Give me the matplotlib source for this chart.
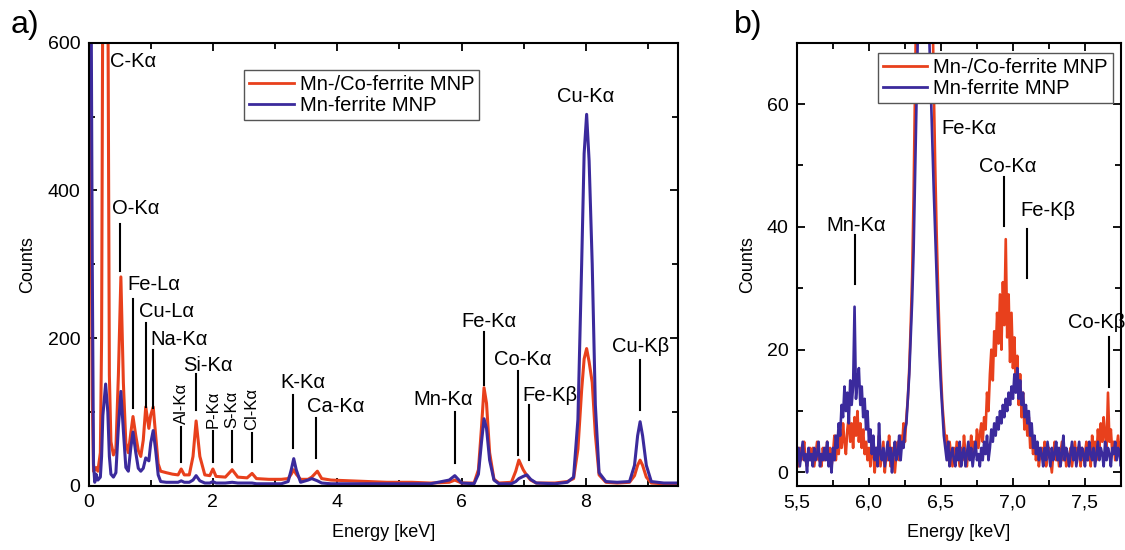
import numpy as np
import matplotlib
matplotlib.use("Agg")
import matplotlib.pyplot as plt
from matplotlib.ticker import MultipleLocator, FuncFormatter

plt.rcParams['font.family'] = ['Liberation Sans', 'DejaVu Sans']

RED = "#e8401c"
BLUE = "#3b2a9c"

# ---- panel a: full spectrum, traced points (keV, counts)
e_full = [0.00, 0.02, 0.04, 0.06, 0.08, 0.10, 0.12, 0.15, 0.19, 0.21,
          0.23, 0.275, 0.31, 0.335, 0.36, 0.40, 0.44, 0.48, 0.52, 0.56,
          0.60, 0.64, 0.68, 0.715, 0.76, 0.80, 0.84, 0.88, 0.92, 0.97,
          1.00, 1.04, 1.08, 1.12, 1.16, 1.25, 1.35, 1.44, 1.49, 1.54,
          1.62, 1.68, 1.73, 1.79, 1.87, 1.95, 2.00, 2.05, 2.20, 2.31,
          2.40, 2.55, 2.63, 2.70, 2.90, 3.10, 3.21, 3.26, 3.30, 3.34,
          3.41, 3.53, 3.59, 3.68, 3.75, 3.90, 4.20, 4.50, 4.80, 5.20,
          5.50, 5.80, 5.89, 6.00, 6.20, 6.27, 6.32, 6.36, 6.40, 6.45,
          6.52, 6.60, 6.80, 6.87, 6.92, 6.99, 7.05, 7.11, 7.20, 7.50,
          7.70, 7.80, 7.87, 7.93, 7.97, 8.01, 8.05, 8.10, 8.15, 8.21,
          8.32, 8.50, 8.70, 8.78, 8.83, 8.87, 8.91, 8.97, 9.05, 9.25,
          9.48]
red_full = [700, 700, 400, 120, 20, 22, 25, 20, 45, 200,
            700, 760, 700, 150, 60, 42, 50, 150, 283, 140,
            58, 45, 72, 94, 68, 48, 40, 62, 107, 78,
            96, 107, 68, 30, 20, 18, 16, 15, 23, 15,
            15, 40, 88, 40, 15, 14, 23, 13, 12, 22,
            12, 11, 17, 10, 9, 9, 10, 16, 22, 16,
            9, 9, 12, 20, 10, 8, 7, 6, 5, 5,
            4, 5, 8, 4, 4, 22, 80, 133, 112, 45,
            9, 4, 5, 20, 35, 22, 14, 8, 4, 4,
            6, 10, 50, 130, 172, 186, 168, 140, 70, 15,
            5, 4, 5, 14, 28, 35, 28, 12, 4, 3,
            3]
blue_full = [700, 700, 700, 300, 30, 5, 16, 8, 12, 40,
             95, 138, 100, 40, 16, 12, 18, 80, 128, 75,
             25, 20, 52, 73, 45, 24, 20, 24, 38, 34,
             58, 75, 48, 15, 6, 5, 5, 5, 7, 5,
             5, 8, 14, 7, 4, 4, 6, 4, 4, 5,
             4, 4, 4, 3, 3, 3, 6, 22, 37, 22,
             5, 8, 10, 7, 4, 3, 3, 3, 3, 3,
             3, 8, 14, 4, 3, 16, 60, 91, 78, 35,
             8, 3, 3, 6, 10, 13, 15, 9, 4, 3,
             5, 12, 90, 300, 450, 503, 440, 300, 110, 18,
             6, 5, 6, 28, 68, 87, 68, 28, 6, 4,
             4]

# ---- panel b: zoom 5.50 .. 7.76 keV, 0.01 keV steps
e_zoom = np.round(np.arange(5.50, 7.765, 0.01), 2)
red_zoom = [3, 1, 4, 2, 3, 5, 2, 1, 3, 4,
            2, 4, 1, 3, 5, 2, 3, 1, 4, 2,
            3, 5, 2, 4, 1, 3, 6, 2, 5, 3,
            7, 4, 8, 5, 3, 7, 9, 5, 8, 4,
            9, 6, 10, 5, 8, 4, 7, 3, 5, 2,
            4, 1, 5, 3, 0, 4, 2, 6, 1, 3,
            5, 0, 3, 2, 6, 1, 4, 2, 0, 3,
            5, 2, 6, 4, 8, 5, 9, 12, 17, 24,
            32, 45, 62, 80, 98, 113, 124, 131, 134, 133,
            128, 119, 107, 93, 78, 63, 50, 39, 30, 22,
            16, 11, 8, 5, 6, 2, 5, 3, 1, 4,
            2, 5, 3, 1, 4, 2, 6, 3, 1, 4,
            3, 6, 2, 5, 3, 7, 4, 6, 8, 5,
            9, 7, 13, 10, 16, 20, 15, 23, 19, 26,
            21, 29, 20, 31, 24, 38, 22, 29, 18, 26,
            17, 22, 14, 19, 11, 16, 9, 13, 7, 10,
            6, 9, 4, 6, 3, 5, 2, 4, 1, 3,
            4, 2, 5, 1, 3, 4, 2, 0, 3, 5,
            2, 4, 1, 3, 5, 2, 4, 1, 3, 2,
            4, 1, 3, 5, 2, 4, 3, 1, 4, 2,
            3, 5, 2, 4, 1, 6, 3, 5, 2, 7,
            4, 8, 5, 9, 6, 4, 13, 5, 7, 3,
            5, 2, 4, 6, 3, 5, 4]
blue_zoom = [2, 4, 1, 3, 5, 2, 3, 0, 4, 2,
             3, 1, 4, 2, 3, 5, 1, 3, 2, 4,
             2, 5, 1, 3, 0, 4, 2, 6, 4, 8,
             6, 11, 9, 14, 10, 13, 8, 15, 11, 14,
             27, 12, 15, 17, 11, 14, 9, 12, 7, 10,
             5, 7, 3, 6, 2, 4, 1, 8, 3, 2,
             4, 1, 3, 5, 2, 4, 0, 3, 5, 2,
             3, 6, 2, 5, 4, 7, 8, 12, 16, 22,
             28, 36, 48, 60, 72, 82, 88, 91, 90, 87,
             82, 76, 70, 62, 54, 46, 39, 32, 25, 19,
             14, 10, 6, 4, 2, 5, 1, 3, 4, 2,
             1, 4, 2, 5, 1, 3, 4, 1, 3, 5,
             2, 4, 1, 3, 5, 2, 3, 1, 4, 2,
             5, 3, 6, 2, 4, 7, 5, 8, 6, 9,
             7, 10, 8, 11, 9, 12, 10, 13, 11, 14,
             12, 16, 13, 17, 12, 15, 11, 13, 9, 11,
             8, 10, 6, 8, 4, 6, 3, 5, 2, 4,
             3, 1, 4, 2, 5, 3, 1, 4, 2, 3,
             5, 2, 4, 1, 3, 6, 2, 4, 3, 1,
             3, 5, 2, 4, 1, 3, 5, 2, 4, 3,
             1, 4, 2, 5, 3, 2, 4, 1, 3, 5,
             2, 4, 3, 1, 5, 2, 4, 3, 1, 4,
             3, 5, 2, 4, 3, 1, 4]

# peak labels: text, text x, text y, ha, line x, line y0, line y1
labels_a = [
    ("C-K\u03b1", 0.35, 575, "left", None, None, None),
    ("O-K\u03b1", 0.38, 375, "left", 0.51, 291, 355),
    ("Fe-L\u03b1", 0.62, 273, "left", 0.715, 106, 253),
    ("Cu-L\u03b1", 0.81, 236, "left", 0.92, 107, 221),
    ("Na-K\u03b1", 0.99, 198, "left", 1.04, 106, 184),
    ("Si-K\u03b1", 1.52, 163, "left", 1.73, 103, 151),
    ("K-K\u03b1", 3.09, 140, "left", 3.29, 51, 123),
    ("Ca-K\u03b1", 3.51, 107, "left", 3.66, 38, 92),
    ("Mn-K\u03b1", 5.23, 117, "left", 5.89, 31, 100),
    ("Fe-K\u03b1", 6.00, 223, "left", 6.36, 136, 208),
    ("Co-K\u03b1", 6.52, 171, "left", 6.90, 42, 155),
    ("Fe-K\u03b2", 6.97, 123, "left", 7.08, 35, 110),
    ("Cu-K\u03b1", 8.00, 527, "center", None, None, None),
    ("Cu-K\u03b2", 8.87, 189, "center", 8.87, 103, 171),
]
# rotated small labels: text, x, text bottom, line bottom, line top
labels_a_rot = [
    ("Al-K\u03b1", 1.49, 84, 32, 80),
    ("P-K\u03b1", 2.00, 79, 32, 75),
    ("S-K\u03b1", 2.31, 79, 32, 75),
    ("Cl-K\u03b1", 2.63, 76, 32, 72),
]
labels_b = [
    ("Mn-K\u03b1", 5.91, 40.3, "center", 5.90, 30.7, 38.7),
    ("Fe-K\u03b1", 6.50, 56.0, "left", None, None, None),
    ("Co-K\u03b1", 6.96, 49.8, "center", 6.94, 40.1, 48.2),
    ("Fe-K\u03b2", 7.24, 42.6, "center", 7.10, 31.6, 39.7),
    ("Co-K\u03b2", 7.58, 24.4, "center", 7.67, 13.9, 22.0),
]

fig = plt.figure(figsize=(11.25, 5.5), dpi=100)
ax1 = fig.add_axes([0.0787, 0.1164, 0.524, 0.806])
ax2 = fig.add_axes([0.7084, 0.1164, 0.288, 0.806])

ax1.plot(e_full, red_full, color=RED, lw=2.2, label="Mn-/Co-ferrite MNP")
ax1.plot(e_full, blue_full, color=BLUE, lw=2.2, label="Mn-ferrite MNP")
ax2.plot(e_zoom, red_zoom, color=RED, lw=1.9, label="Mn-/Co-ferrite MNP")
ax2.plot(e_zoom, blue_zoom, color=BLUE, lw=1.9, label="Mn-ferrite MNP")

ax1.set_xlim(0, 9.48)
ax1.set_ylim(0, 600)
ax2.set_xlim(5.5, 7.75)
ax2.set_ylim(-2.2, 70)

ax1.xaxis.set_major_locator(MultipleLocator(2))
ax1.xaxis.set_minor_locator(MultipleLocator(1))
ax1.yaxis.set_major_locator(MultipleLocator(200))
ax1.yaxis.set_minor_locator(MultipleLocator(100))
ax2.xaxis.set_major_locator(MultipleLocator(0.5))
ax2.xaxis.set_minor_locator(MultipleLocator(0.25))
ax2.yaxis.set_major_locator(MultipleLocator(20))
ax2.yaxis.set_minor_locator(MultipleLocator(10))
ax2.xaxis.set_major_formatter(FuncFormatter(lambda v, p: f"{v:.1f}".replace(".", ",")))

for ax in (ax1, ax2):
    for s in ax.spines.values():
        s.set_linewidth(1.5)
    ax.tick_params(which="both", direction="in", top=True, right=True,
                   width=1.3, labelsize=14, pad=6)
    ax.tick_params(which="major", length=6)
    ax.tick_params(which="minor", length=4)
    ax.set_xlabel("Energy [keV]", fontsize=13, labelpad=9)
    ax.set_ylabel("Counts", fontsize=13, labelpad=8)

for txt, tx, ty, ha, lx, l0, l1 in labels_a:
    ax1.text(tx, ty, txt, fontsize=14.5, ha=ha, va="center")
    if lx is not None:
        ax1.plot([lx, lx], [l0, l1], color="black", lw=1.5)
for txt, x, tb, l0, l1 in labels_a_rot:
    ax1.text(x, tb, txt, fontsize=12, rotation=90, ha="center", va="bottom")
    ax1.plot([x, x], [l0, l1], color="black", lw=1.5)
for txt, tx, ty, ha, lx, l0, l1 in labels_b:
    ax2.text(tx, ty, txt, fontsize=14.5, ha=ha, va="center", clip_on=False)
    if lx is not None:
        ax2.plot([lx, lx], [l0, l1], color="black", lw=1.5)

leg_kw = dict(loc="upper left", fontsize=14.5, fancybox=False, edgecolor="#555555",
              framealpha=1, borderpad=0.25, handlelength=2.2, handletextpad=0.3,
              labelspacing=0.1, borderaxespad=0)
leg1 = ax1.legend(bbox_to_anchor=(0.264, 0.938), **leg_kw)
leg2 = ax2.legend(bbox_to_anchor=(0.25, 0.977), **leg_kw)
for leg in (leg1, leg2):
    leg.get_frame().set_linewidth(1.0)
    for ln in leg.get_lines():
        ln.set_linewidth(2.0)

fig.text(0.009, 0.955, "a)", fontsize=23, va="center")
fig.text(0.652, 0.955, "b)", fontsize=23, va="center")

fig.savefig("out.png", dpi=100)
